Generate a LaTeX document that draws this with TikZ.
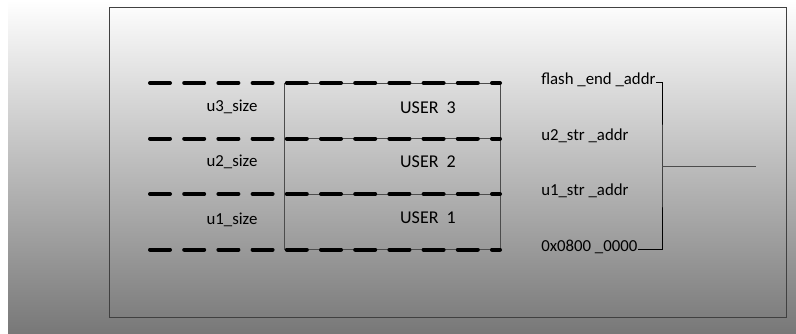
\documentclass[tikz,border=0pt]{standalone}
\usepackage{fontspec}
\setmainfont{Carlito}
\usepackage{tikz}
\usetikzlibrary{positioning}

\begin{document}
\begin{tikzpicture} [ x=0.75pt, y=-0.75pt, node distance=0pt,
    font=\fontsize{12.6}{15}\selectfont,
    box/.style={rectangle, draw=black!70, line width=0.6pt,
    minimum width=162pt, minimum height=41.6pt, inner sep=0pt, outer sep=0pt},
    level/.style={line width=3pt, line cap=round, dash pattern=on 15pt off 10.65pt},
    sz/.style={inner sep=0pt},
    usr/.style={inner sep=0pt, font=\fontsize{13.5}{16}\selectfont},
    tag/.style={inner sep=0pt, anchor=base west},
    wire/.style={black, line width=0.75pt},
    frame/.style={draw=black!75, line width=0.75pt}
    ]
    \useasboundingbox (0,0) rectangle (796,333);
    \shade [top color=white, bottom color=black!53] (8,0) rectangle (796,333);
    \draw [frame] (109,7) rectangle (786,317);

    \node (u1) [box] at (392,221.75) {};
    \node (u2) [box, above=of u1] {};
    \node (u3) [box, above=of u2] {};

    \node (t1) [usr] at (428,218) {USER\ \ 1};
    \node (t2) [usr] at (428,162) {USER\ \ 2};
    \node (t3) [usr] at (428,107.5) {USER\ \ 3};

    \node (s1) [sz] at (232,220) {u1\_size};
    \node (s2) [sz] at (232,162) {u2\_size};
    \node (s3) [sz] at (232,107) {u3\_size};

    \coordinate (l0) at (150,249.5);
    \coordinate (l1) at (150,194);
    \coordinate (l2) at (150,138.5);
    \coordinate (l3) at (150,83);
    \draw [level] (l0) -- (l0 -| u1.east);
    \draw [level] (l1) -- (l1 -| u1.east);
    \draw [level] (l2) -- (l2 -| u1.east);
    \draw [level] (l3) -- (l3 -| u1.east);

    \node (a3) [tag] at (541,84) {flash \_end \_addr};
    \node (a2) [tag] at (541,140.5) {u2\_str \_addr};
    \node (a1) [tag] at (541,195.5) {u1\_str \_addr};
    \node (a0) [tag] at (541,251.5) {0x0800 \_0000};

    \coordinate (bk) at (662,166);
    \coordinate (tip) at (756,166);
    \draw [wire] ([yshift=1.5pt]a3.base east) -| (bk) |- ([yshift=1.5pt]a0.base east);
    \draw [wire, black!70] (bk) -- (tip);
  \end{tikzpicture}
\end{document}
